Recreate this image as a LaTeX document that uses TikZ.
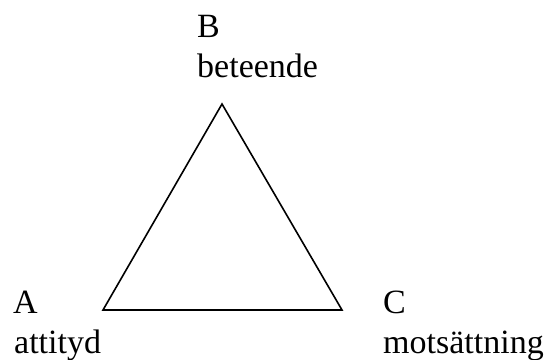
\documentclass[tikz,border=0pt]{standalone}
\usepackage{fontspec}
\setmainfont{Liberation Serif}
\begin{document}
\begin{tikzpicture}[x=1pt,y=1pt,
  lbl/.style={anchor=base west,inner sep=0pt,font=\fontsize{34}{40}\selectfont},
  edge/.style={line width=1.6pt,line join=miter}]
\useasboundingbox (0,0) rectangle (546,-359);
\coordinate (tb) at (222,-104);
\coordinate (ta) at (103,-310);
\coordinate (tc) at (342,-310);
\draw[edge] (tb) -- (ta) -- (tc) -- cycle;
\node[lbl] (b1) at (197,-37) {B};
\node[lbl] (b2) at (197,-77) {beteende};
\node[lbl] (a1) at (13,-313) {A};
\node[lbl] (a2) at (14,-353) {attityd};
\node[lbl] (c1) at (383,-313) {C};
\node[lbl] (c2) at (383,-353) {motsättning};
\end{tikzpicture}
\end{document}
